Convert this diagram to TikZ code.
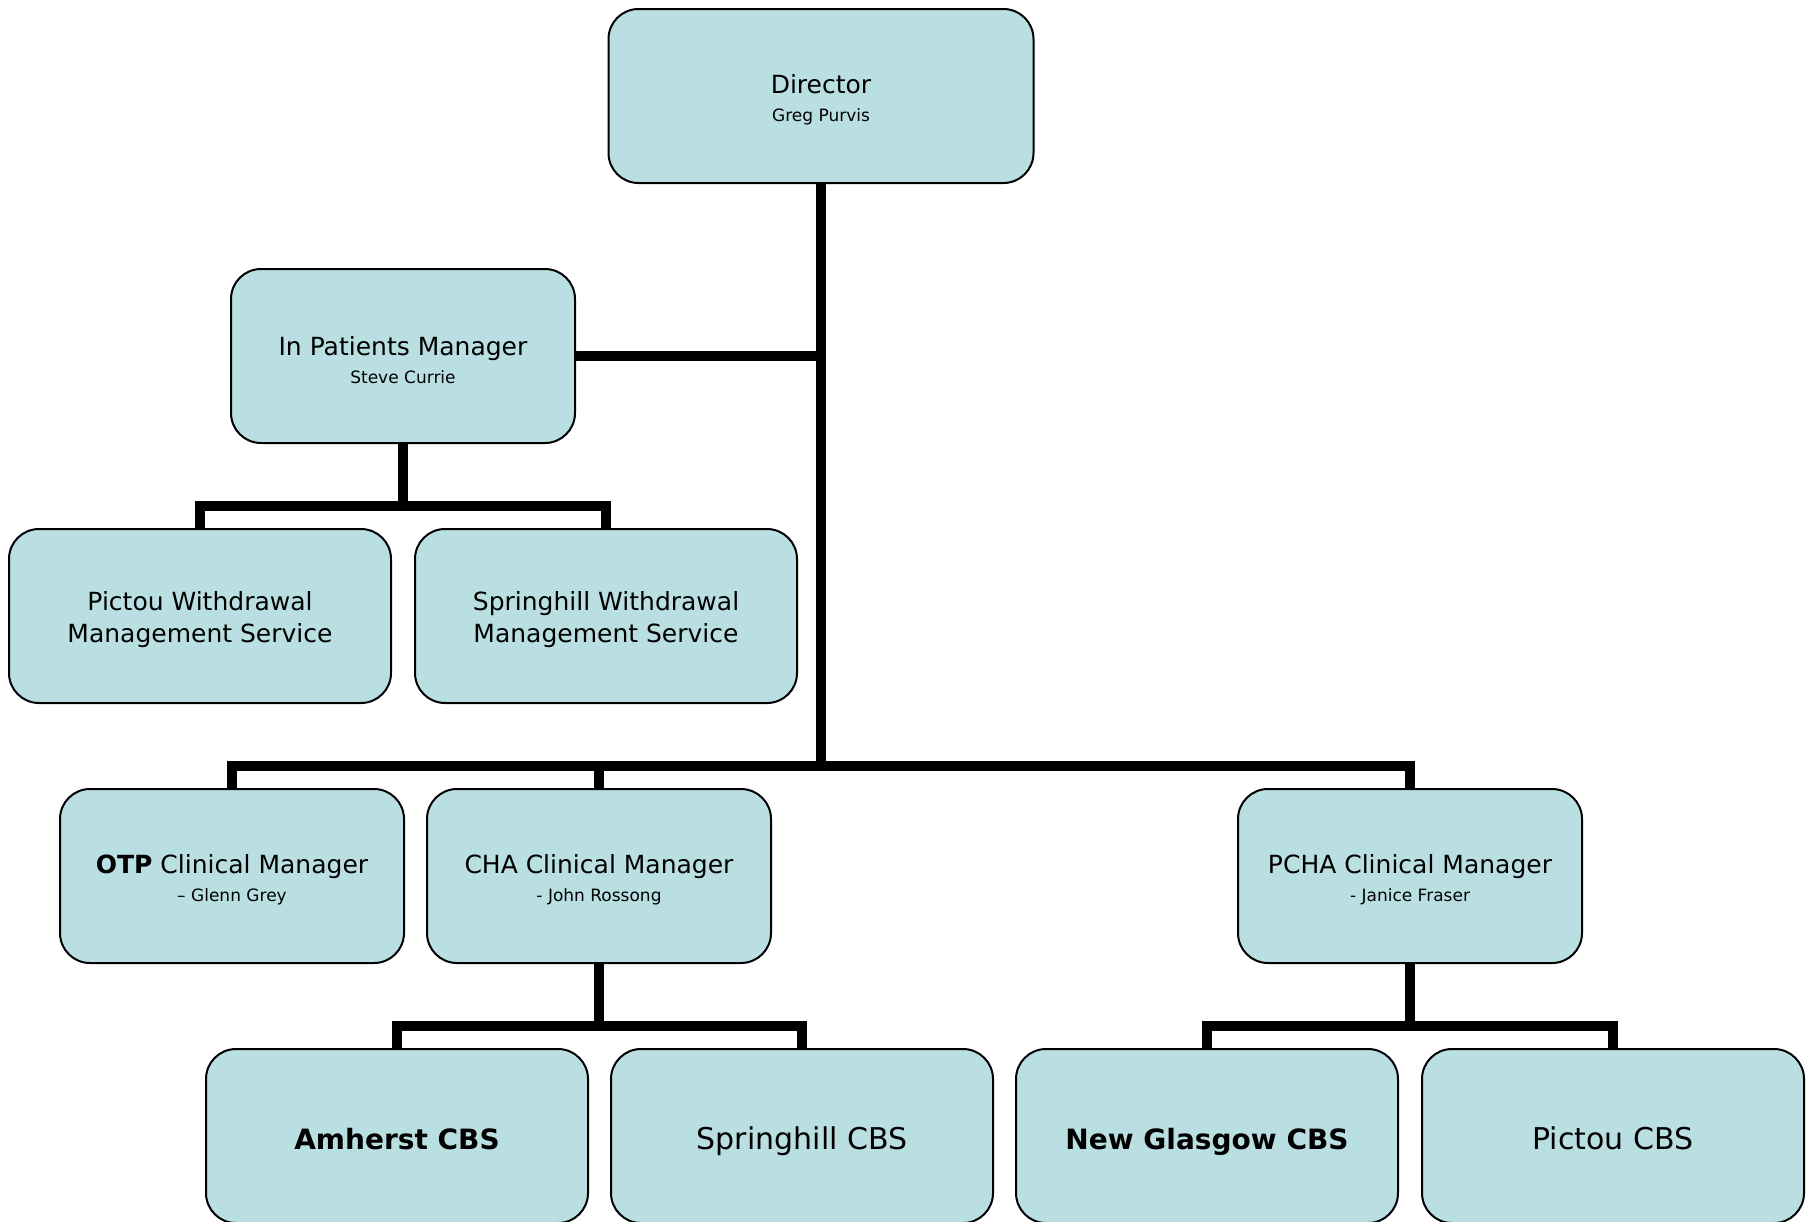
\documentclass[tikz,border=0pt]{standalone}
\usepackage{fontspec}
\setmainfont{DejaVu Sans}
\definecolor{boxfill}{RGB}{186,223,227}
\begin{document}
\begin{tikzpicture}[x=1pt,y=-1pt,
  orgbox/.style={draw=black, line width=2pt, fill=boxfill, rounded corners=30pt,
    minimum height=174pt, inner sep=0pt, align=center, font=\fontsize{25}{28}\selectfont},
  wide/.style={orgbox, minimum width=382pt},
  narrow/.style={orgbox, minimum width=344pt},
  dirbox/.style={orgbox, minimum width=425pt},
  cbs/.style={wide, font=\fontsize{30}{36}\selectfont, text height=30pt, text depth=4pt},
  cbsbold/.style={wide, font=\fontsize{28}{36}\selectfont\bfseries, text height=29pt, text depth=3pt},
  conn/.style={line width=10pt, line join=miter, line cap=butt}]
\useasboundingbox (0,0) rectangle (1811,1221);

\newcommand{\subname}[1]{\fontsize{17}{28}\selectfont #1}
\newcommand{\topstrut}{\rule{0pt}{27pt}}

\node[dirbox] (dir) at (821,96) {\topstrut Director\\\subname{Greg Purvis}};
\node[narrow] (ipm) at (403,356) {\topstrut In Patients Manager\\\subname{Steve Currie}};
\node[wide, font=\fontsize{25}{32}\selectfont] (pwm) at (200,616) {\topstrut Pictou Withdrawal\\Management Service};
\node[wide, font=\fontsize{25}{32}\selectfont] (swm) at (606,616) {\topstrut Springhill Withdrawal\\Management Service};
\node[narrow] (otp) at (232,876) {\topstrut\textbf{OTP} Clinical Manager\\\subname{– Glenn Grey}};
\node[narrow] (cha) at (599,876) {\topstrut CHA Clinical Manager\\\subname{- John Rossong}};
\node[narrow] (pcha) at (1410,876) {\topstrut PCHA Clinical Manager\\\subname{- Janice Fraser}};
\node[cbsbold] (amh) at (397,1136) {Amherst CBS};
\node[cbs] (scbs) at (802,1136) {Springhill CBS};
\node[cbsbold] (ngc) at (1207,1136) {New Glasgow CBS};
\node[cbs] (pcbs) at (1613,1136) {Pictou CBS};

\coordinate (busA) at (821,766);
\coordinate (busB) at (403,506);
\coordinate (busC) at (599,1026);

% director trunk
\draw[conn] (dir.south) -- (dir.south |- busA);
\draw[conn] (ipm.east) -- (dir.south |- ipm.east);
\draw[conn] (otp.north) -- (otp.north |- busA) -- (pcha.north |- busA) -- (pcha.north);
\draw[conn] (cha.north) -- (cha.north |- busA);
% in patients
\draw[conn] (ipm.south) -- (ipm.south |- busB);
\draw[conn] (pwm.north) -- (pwm.north |- busB) -- (swm.north |- busB) -- (swm.north);
% CHA
\draw[conn] (cha.south) -- (cha.south |- busC);
\draw[conn] (amh.north) -- (amh.north |- busC) -- (scbs.north |- busC) -- (scbs.north);
% PCHA
\draw[conn] (pcha.south) -- (pcha.south |- busC);
\draw[conn] (ngc.north) -- (ngc.north |- busC) -- (pcbs.north |- busC) -- (pcbs.north);
\end{tikzpicture}
\end{document}
